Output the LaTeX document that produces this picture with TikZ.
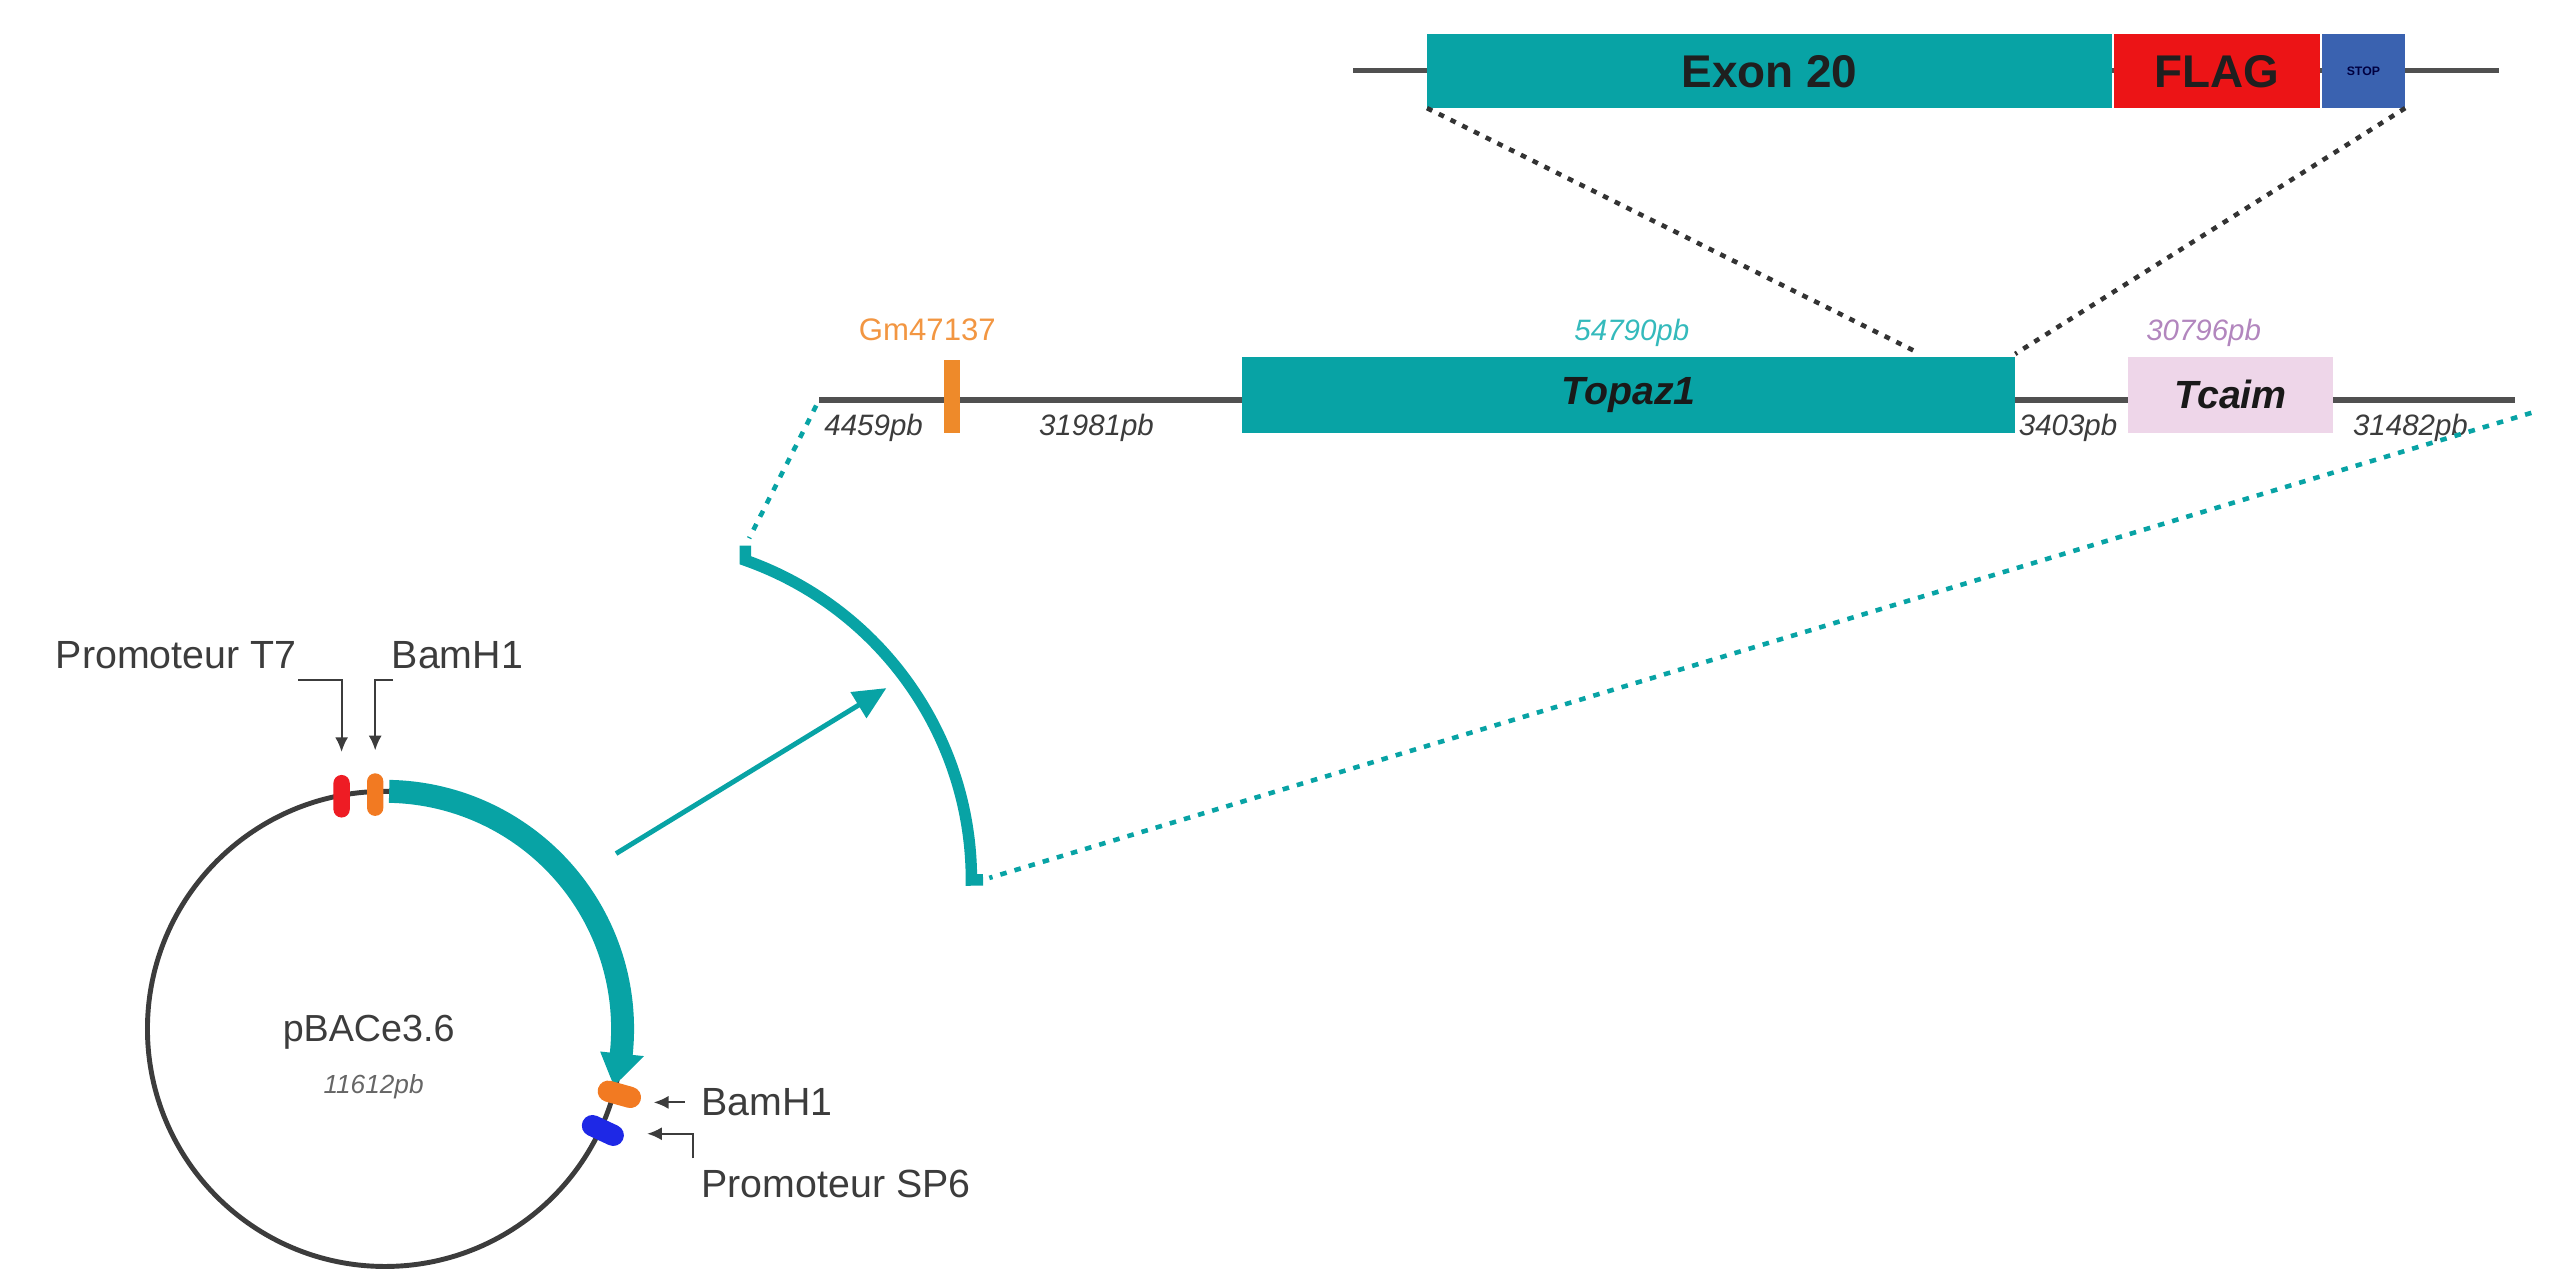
\documentclass[tikz,border=0pt]{standalone}
\usepackage{fontspec}
\setmainfont{Liberation Sans}
\usetikzlibrary{arrows.meta,calc}

\definecolor{tealc}{RGB}{8,163,165}
\definecolor{tealtxt}{RGB}{52,186,188}
\definecolor{flagred}{RGB}{236,20,22}
\definecolor{stopblue}{RGB}{58,98,176}
\definecolor{gmorange}{RGB}{238,138,42}
\definecolor{gmtxt}{RGB}{242,150,66}
\definecolor{tcaimpink}{RGB}{238,214,233}
\definecolor{mauve}{RGB}{178,134,190}
\definecolor{dnagray}{RGB}{80,80,80}
\definecolor{txtgray}{RGB}{60,60,60}
\definecolor{pillred}{RGB}{238,28,36}
\definecolor{pillorange}{RGB}{242,122,34}
\definecolor{pillblue}{RGB}{30,40,230}

\tikzset{
  dnaline/.style={draw=dnagray, line width=3.5pt},
  genebox/.style={anchor=south west, inner sep=0pt, outer sep=0pt, draw=none},
  bigtxt/.style={font=\bfseries\fontsize{28}{30}\selectfont, text=black!88},
  genetxt/.style={font=\bfseries\itshape\fontsize{24}{26}\selectfont, text=black!90},
  pblab/.style={font=\itshape\fontsize{18}{20}\selectfont, text=txtgray, inner sep=0pt},
  toplab/.style={font=\fontsize{19}{21}\selectfont, inner sep=0pt},
  sidelab/.style={font=\fontsize{24}{28}\selectfont, text=txtgray, inner sep=0pt},
  pill/.style={inner sep=0pt, outer sep=0pt, draw=none},
  callout/.style={draw=txtgray, line width=1.3pt, -{Latex[length=9pt,width=8pt]}},
  blackdots/.style={draw=black!80, line width=2.8pt, dash pattern=on 3.5pt off 4.5pt},
  tealdots/.style={draw=tealc, line width=2.8pt, dash pattern=on 4pt off 5pt},
}

\begin{document}
\begin{tikzpicture}[x=1pt,y=1pt]
\useasboundingbox (0,0) rectangle (1568,775);

% ---------- construct: Exon 20 - FLAG - STOP ----------
\coordinate (tl) at (826,732);
\coordinate (tr) at (1525,732);
\draw[dnaline] (tl) -- (tr);
\node[genebox, fill=tealc, minimum width=418pt, minimum height=45pt] (exon) at (871,709) {};
\node[bigtxt] at (exon.center) {Exon 20};
\node[genebox, fill=flagred, minimum width=126pt, minimum height=45pt] (flag) at (1290,709) {};
\node[bigtxt] at (flag.center) {FLAG};
\node[genebox, fill=stopblue, minimum width=51pt, minimum height=45pt] (stop) at (1417,709) {};
\node[font=\bfseries\fontsize{7.5}{8}\selectfont, text=black!75!blue] at (stop.center) {STOP};

% ---------- genomic locus ----------
\coordinate (ml) at (500,531);
\coordinate (mr) at (1535,531);
\draw[dnaline] (ml) -- (mr);
\node[genebox, fill=gmorange, minimum width=10pt, minimum height=44pt] (gm) at (576,511) {};
\node[genebox, fill=tealc, minimum width=472pt, minimum height=46pt] (topaz) at (758,511) {};
\node[genetxt] at (topaz.center) {Topaz1};
\node[genebox, fill=tcaimpink, minimum width=125pt, minimum height=46pt] (tcaim) at (1299,511) {};
\node[genetxt] at (tcaim.center) {Tcaim};

\node[toplab, text=gmtxt, anchor=base] (gmlab) at (566,567) {Gm47137};
\node[pblab, text=tealtxt, anchor=base] (toplab) at (996,567) {54790pb};
\node[pblab, text=mauve, anchor=base] (tclab) at (1345,567) {30796pb};

\node[pblab, anchor=base west] (d1) at (503,509) {4459pb};
\node[pblab, anchor=base west] (d2) at (634,509) {31981pb};
\node[pblab, anchor=base west] (d3) at (1232,509) {3403pb};
\node[pblab, anchor=base west] (d4) at (1436,509) {31482pb};

% zoom lines from the construct to Topaz1
\draw[blackdots] (exon.south west) -- ([xshift=410pt,yshift=4pt]topaz.north west);
\draw[blackdots] (stop.south east) -- ([yshift=2pt]topaz.north east);

% ---------- insert arc ----------
\coordinate (arcT) at (455,442);
\coordinate (arcA) at (455,433);
\coordinate (arcE) at (600,238);
\draw[tealc, line width=7pt, line join=miter] (arcT) -- (arcA)
  arc[start angle=70.5, end angle=0, radius=207] -- (arcE);
\coordinate (dr) at (1545,523);
\draw[tealdots, shorten <=4pt, shorten >=5pt] (ml) -- (arcT);
\draw[tealdots, shorten >=4pt] (dr) -- (arcE);

% ---------- plasmid pBACe3.6 ----------
\coordinate (P) at (235,147);
\draw[draw=txtgray, line width=3pt] (P) circle[radius=145];
\draw[tealc, line width=14pt] ($(P)+(89:145)$) arc[start angle=89, end angle=-6.5, radius=145];
\fill[tealc] ($(P)+(-6:132)$) -- ($(P)+(-6:159)$) -- ($(P)+(-14:144)$) -- cycle;

\node[pill, fill=pillred, minimum width=26pt, minimum height=10pt, rounded corners=5pt, rotate=90]
  (t7p) at (208.5,289) {};
\node[pill, fill=pillorange, minimum width=26pt, minimum height=10pt, rounded corners=5pt, rotate=90]
  (b1p) at (229,290) {};
\node[pill, fill=pillorange, minimum width=27pt, minimum height=13pt, rounded corners=6.5pt, rotate=-15.6]
  (b2p) at ($(P)+(-15.6:148.5)$) {};
\node[pill, fill=pillblue, minimum width=27pt, minimum height=13pt, rounded corners=6.5pt, rotate=-25]
  (sp6p) at ($(P)+(-25:146.7)$) {};

\node[font=\fontsize{23}{26}\selectfont, text=txtgray] (pname) at (225,145) {pBACe3.6};
\node[font=\itshape\fontsize{16}{18}\selectfont, text=black!60] (psize) at (228,112) {11612pb};

% site labels and their pointers
\node[sidelab, anchor=base east] (t7lab) at (181,367) {Promoteur T7};
\node[sidelab, anchor=base west] (b1lab) at (239,367) {BamH1};
\node[sidelab, anchor=base west] (b2lab) at (428,94) {BamH1};
\node[sidelab, anchor=base west] (sp6lab) at (428,44) {Promoteur SP6};

\draw[callout, shorten >=14pt] ([shift={(1pt,-7pt)}]t7lab.base east) -| (t7p.east);
\draw[callout, shorten >=14pt] ([shift={(1pt,-7pt)}]b1lab.base west) -| (b1p.east);
\draw[callout, shorten >=8pt] ([xshift=-10pt]b2lab.west) -- (b2lab.west -| b2p.east);
\coordinate (sp6tip) at (395,83);
\draw[callout] ([shift={(-5pt,7pt)}]sp6lab.north west) |- (sp6tip);

% ---------- pointer from the plasmid to the insert ----------
\coordinate (pa1) at (376,254);
\coordinate (pa2) at (541,355);
\draw[tealc, line width=3pt, -{Triangle[length=20pt,width=18pt]}] (pa1) -- (pa2);
\end{tikzpicture}
\end{document}
